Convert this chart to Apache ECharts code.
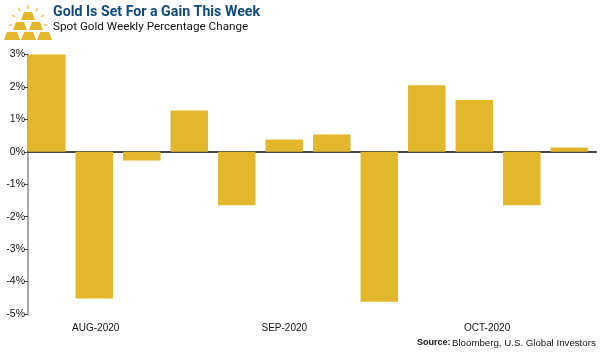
<!DOCTYPE html>
<html>
<head>
<meta charset="utf-8">
<script src="https://cdn.jsdelivr.net/npm/echarts@6/dist/echarts.min.js"></script>
<style>html,body{margin:0;padding:0;background:#fff}#main{width:600px;height:353px}</style>
</head>
<body>
<div id="main"></div>
<script>
// weekly change in percent
var weeks = [0, 1, 2, 3, 4, 5, 6, 7, 8, 9, 10, 11];
var changes = [3.0, -4.52, -0.27, 1.27, -1.65, 0.38, 0.53, -4.62, 2.05, 1.6, -1.65, 0.13];
var monthTicks = [1.03, 5, 9.27];
var monthLabels = ['AUG-2020', 'SEP-2020', 'OCT-2020'];

var GOLD = '#e2b72b';
var font = '"Liberation Sans", sans-serif';

var barData = [];
for (var i = 0; i < weeks.length; i++) {
    barData.push([weeks[i], changes[i]]);
}

function bar(x, y, w, h) {
    return {
        type: 'polygon',
        shape: { points: [[x + 3, y], [x + w - 3, y], [x + w, y + h], [x, y + h]] },
        style: { fill: GOLD }
    };
}
function ray(x1, y1, x2, y2) {
    return {
        type: 'line',
        shape: { x1: x1, y1: y1, x2: x2, y2: y2 },
        style: { stroke: '#ecc84f', lineWidth: 1.5 }
    };
}

var xMin = -0.395, xMax = 11.562;

var option = {
    animation: false,
    grid: { left: 28, right: 4, top: 54.5, bottom: 39 },
    xAxis: [
        {
            type: 'value', min: xMin, max: xMax, splitLine: { show: false },
            axisLine: { show: false, onZero: false },
            axisTick: { show: false },
            axisLabel: {
                margin: 9,
                customValues: monthTicks,
                color: '#111', fontFamily: font, fontSize: 10,
                formatter: function (v) { return monthLabels[monthTicks.indexOf(v)]; }
            }
        },
        {
            type: 'value', min: xMin, max: xMax, position: 'bottom', splitLine: { show: false },
            axisLine: { show: true, onZero: true, lineStyle: { color: '#444', width: 2 } },
            axisTick: { show: false },
            axisLabel: { show: false }
        }
    ],
    yAxis: {
        type: 'value', min: -5, max: 3, interval: 1, splitLine: { show: false },
        axisLine: { show: true, onZero: false, lineStyle: { color: '#8a8a8a', width: 1.5 } },
        axisTick: { show: true, length: 4, lineStyle: { color: '#444', width: 1 } },
        axisLabel: {
            margin: 3, color: '#111', fontFamily: font, fontSize: 10.5,
            formatter: '{value}%'
        }
    },
    series: [{
        type: 'bar', xAxisIndex: 0, data: barData, barWidth: 37.5,
        itemStyle: { color: GOLD }
    }],
    graphic: [
        { type: 'text', left: 53, top: 5, style: { text: 'Gold Is Set For a Gain This Week', fill: '#0e4a7c', font: 'bold 14.2px Roboto, sans-serif' } },
        { type: 'text', left: 53, top: 21, style: { text: 'Spot Gold Weekly Percentage Change', fill: '#111', font: '11.7px Roboto, sans-serif' } },
        { type: 'text', left: 417, top: 338, style: { text: 'Source:', fill: '#111', font: 'bold 9px "Liberation Sans", sans-serif' } },
        { type: 'text', left: 452, top: 338, style: { text: 'Bloomberg, U.S. Global Investors', fill: '#111', font: '9.7px "Liberation Sans", sans-serif' } },
        bar(21, 12, 14, 8), bar(13, 22, 14, 8), bar(29, 22, 14, 8),
        bar(4, 32, 16, 8), bar(21, 32, 15, 8), bar(37, 32, 15, 8),
        ray(28, 5, 28, 9), ray(18, 8, 20, 11), ray(38, 8, 36, 11), ray(12, 15, 15, 17), ray(44, 15, 41, 17),
        ray(9, 25, 12, 25), ray(44, 25, 47, 25)
    ]
};

var myChart = echarts.init(document.getElementById('main'));
myChart.setOption(option);
</script>
</body>
</html>
